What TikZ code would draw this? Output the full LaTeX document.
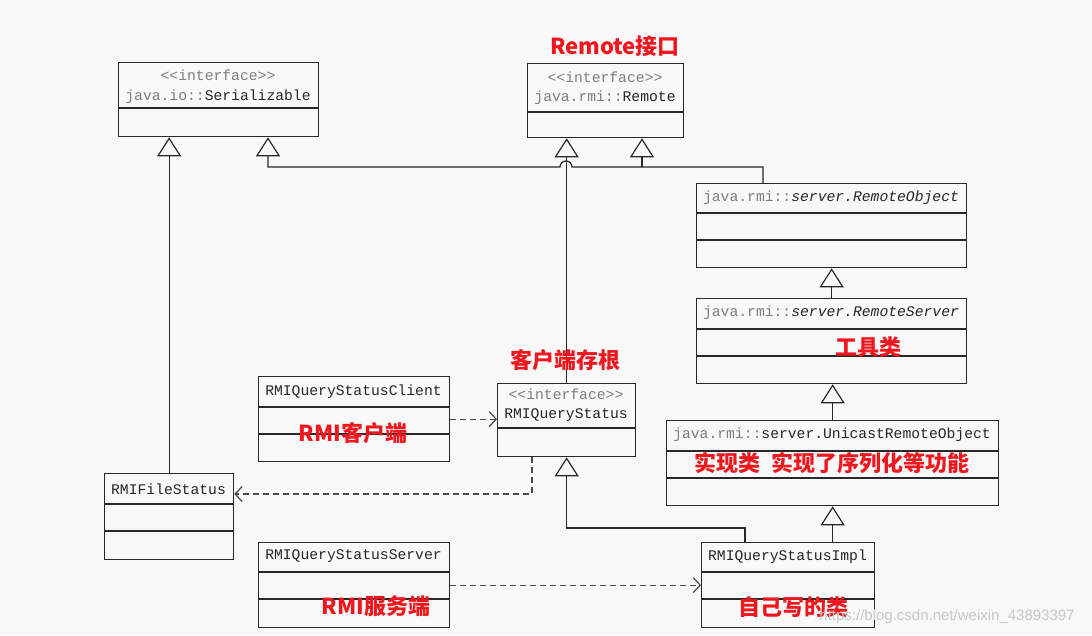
\documentclass[tikz,border=0pt]{standalone}
\usepackage{fontspec}
\newfontfamily\mono{Liberation Mono}
\newfontfamily\cjk{Noto Sans CJK SC}
\newfontfamily\wmfont{Liberation Sans}
\usetikzlibrary{arrows.meta}
\definecolor{bg}{RGB}{248,248,248}
\definecolor{ln}{RGB}{40,40,40}
\definecolor{gtxt}{RGB}{125,125,125}
\definecolor{rd}{RGB}{240,22,30}
\tikzset{
  cls/.style={draw=ln,line width=1.3pt,rectangle,inner sep=0pt,anchor=north west},
  txt/.style={font=\mono\fontsize{14.7}{16}\selectfont,text=black!85,inner sep=0pt},
  lbl/.style={font=\cjk\bfseries\fontsize{22}{24}\selectfont,text=rd,inner sep=0pt},
  gen/.style={draw=ln,line width=1.2pt,-{Triangle[open,length=19pt,width=24pt,fill=bg]}},
  dep/.style={draw=ln!85,line width=1.2pt,dash pattern=on 6pt off 4pt,-{Straight Barb[length=7pt,width=15pt]}},
  divl/.style={draw=ln,line width=1.2pt},
  wm/.style={font=\wmfont\fontsize{15}{17}\selectfont,text=black!22,inner sep=0pt}
}
\begin{document}
\begin{tikzpicture}[x=1pt,y=-1pt]
\fill[bg] (0,0) rectangle (1092,635);
\useasboundingbox (0,0) rectangle (1092,635);

% class boxes
\node[cls,minimum width=200pt,minimum height=74pt] (ser) at (118,62) {};
\node[cls,minimum width=156pt,minimum height=74pt] (rem) at (527,63) {};
\node[cls,minimum width=270pt,minimum height=84pt] (ro) at (696,183) {};
\node[cls,minimum width=270pt,minimum height=85pt] (rs) at (696,298) {};
\node[cls,minimum width=332pt,minimum height=85pt] (uro) at (666,420) {};
\node[cls,minimum width=191pt,minimum height=85pt] (cl) at (258,376) {};
\node[cls,minimum width=138pt,minimum height=73pt] (qs) at (497,383) {};
\node[cls,minimum width=129pt,minimum height=86pt] (fs) at (104,473) {};
\node[cls,minimum width=191pt,minimum height=85pt] (srv) at (258,542) {};
\node[cls,minimum width=173pt,minimum height=85pt] (impl) at (701,542) {};

% dividers
\draw[divl] (ser.west |- 0,108) -- (ser.east |- 0,108);
\draw[divl] (rem.west |- 0,112) -- (rem.east |- 0,112);
\draw[divl] (ro.west |- 0,213) -- (ro.east |- 0,213);
\draw[divl] (ro.west |- 0,240) -- (ro.east |- 0,240);
\draw[divl] (rs.west |- 0,329) -- (rs.east |- 0,329);
\draw[divl] (rs.west |- 0,356) -- (rs.east |- 0,356);
\draw[divl] (uro.west |- 0,451) -- (uro.east |- 0,451);
\draw[divl] (uro.west |- 0,478) -- (uro.east |- 0,478);
\draw[divl] (cl.west |- 0,407) -- (cl.east |- 0,407);
\draw[divl] (cl.west |- 0,434) -- (cl.east |- 0,434);
\draw[divl] (qs.west |- 0,428) -- (qs.east |- 0,428);
\draw[divl] (fs.west |- 0,504) -- (fs.east |- 0,504);
\draw[divl] (fs.west |- 0,531) -- (fs.east |- 0,531);
\draw[divl] (srv.west |- 0,572) -- (srv.east |- 0,572);
\draw[divl] (srv.west |- 0,599) -- (srv.east |- 0,599);
\draw[divl] (impl.west |- 0,572) -- (impl.east |- 0,572);
\draw[divl] (impl.west |- 0,599) -- (impl.east |- 0,599);

% class texts
\node[txt] (serI) at (218,75) {\color{gtxt}\textless\textless interface\textgreater\textgreater};
\node[txt] (serN) at (218,97) {{\color{gtxt}java.io::}Serializable};
\node[txt] (remI) at (605,77) {\color{gtxt}\textless\textless interface\textgreater\textgreater};
\node[txt] (remN) at (605,98) {{\color{gtxt}java.rmi::}Remote};
\node[txt] (roN) at (831,198) {{\color{gtxt}java.rmi::}\itshape server.RemoteObject};
\node[txt] (rsN) at (831,313) {{\color{gtxt}java.rmi::}\itshape server.RemoteServer};
\node[txt] (uroN) at (832,435) {{\color{gtxt}java.rmi::}server.UnicastRemoteObject};
\node[txt] (clN) at (353.5,392) {RMIQueryStatusClient};
\node[txt] (qsI) at (566,394) {\color{gtxt}\textless\textless interface\textgreater\textgreater};
\node[txt] (qsN) at (566,415) {RMIQueryStatus};
\node[txt] (fsN) at (168.5,489) {RMIFileStatus};
\node[txt] (srvN) at (353.5,556) {RMIQueryStatusServer};
\node[txt] (implN) at (787.5,557) {RMIQueryStatusImpl};

% generalization connectors
\draw[gen] (fs.north) -- (fs.north |- ser.south);
\coordinate (h) at (763,167);
\coordinate (s1) at (268,167);
\coordinate (s2) at (642,167);
\draw[gen] (ro.north -| h) -- (h) -- (572,167) arc[start angle=0,end angle=180,radius=6pt] -- (s1) -- (s1 |- ser.south);
\draw[gen] (s2) -- (s2 |- rem.south);
\draw[gen] (qs.north) -- (qs.north |- rem.south);
\draw[gen] (rs.north) -- (ro.south);
\draw[gen] (uro.north) -- (uro.north |- rs.south);
\draw[gen] (uro.south |- impl.north) -- (uro.south);
\coordinate (b1) at (745,528);
\draw[gen] (impl.north -| b1) -- (b1) -- (b1 -| qs.south) -- (qs.south);

% dependency connectors
\draw[dep] (cl.east) -- (cl.east -| qs.west);
\coordinate (d1) at (532,494);
\draw[dep] (qs.south -| d1) -- (d1) -- (d1 -| fs.east);
\draw[dep] (srv.east) -- (srv.east -| impl.west);

% red annotations
\node[lbl] (l1) at (615,46) {Remote接口};
\node[lbl] (l2) at (868,347) {工具类};
\node[lbl] (l3) at (832,463) {实现类\ \ 实现了序列化等功能};
\node[lbl] (l4) at (353,433) {RMI客户端};
\node[lbl] (l5) at (565,360) {客户端存根};
\node[lbl] (l6) at (376,606) {RMI服务端};
\node[lbl] (l7) at (793,607) {自己写的类};

% watermark
\node[wm] (wm) at (947,617) {https://blog.csdn.net/weixin\_43893397};
\end{tikzpicture}
\end{document}
